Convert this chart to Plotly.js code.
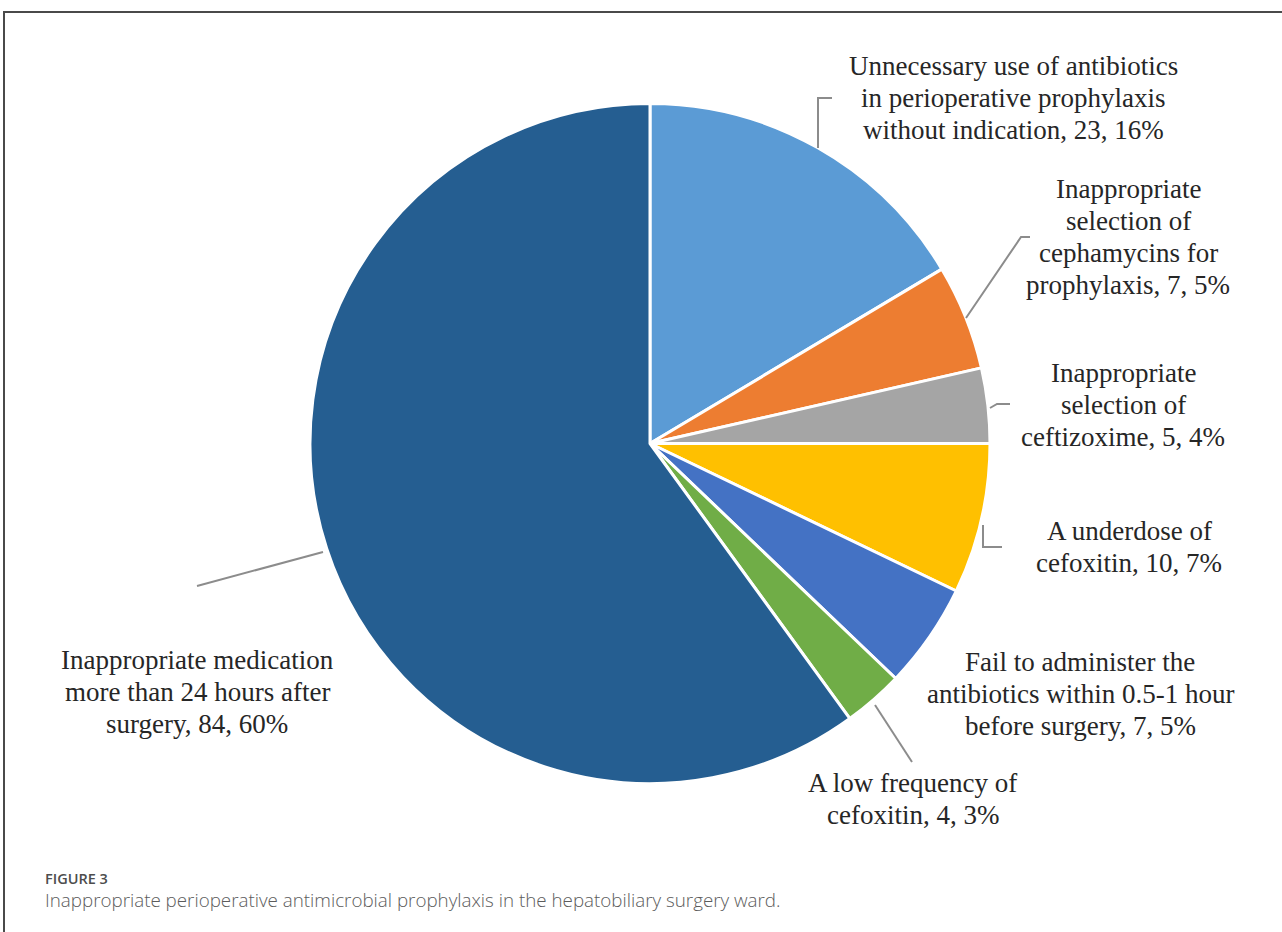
<!DOCTYPE html>
<html>
<head>
<meta charset="utf-8">
<script src="https://cdn.plot.ly/plotly-3.0.1.min.js"></script>
<style>
  html, body { margin: 0; padding: 0; background: #fff; }
  #chart { width: 1282px; height: 932px; }
</style>
</head>
<body>
<div id="chart"></div>
<script>
// ---- Data ----
const categories = [
  "Unnecessary use of antibiotics<br>in perioperative prophylaxis<br>without indication",
  "Inappropriate<br>selection of<br>cephamycins for<br>prophylaxis",
  "Inappropriate<br>selection of<br>ceftizoxime",
  "A underdose of<br>cefoxitin",
  "Fail to administer the<br>antibiotics within 0.5-1 hour<br>before surgery",
  "A low frequency of<br>cefoxitin",
  "Inappropriate medication<br>more than 24 hours after<br>surgery"
];
const values = [23, 7, 5, 10, 7, 4, 84];
const colors = ["#5B9BD5", "#ED7D31", "#A5A5A5", "#FFC000", "#4472C4", "#70AD47", "#255E91"];
const figureLabel = "FIGURE 3";
const caption = "Inappropriate perioperative antimicrobial prophylaxis in the hepatobiliary surgery ward.";

// ---- Layout helpers (pixel -> paper) ----
const W = 1282, H = 932;
const px = x => x / W;
const py = y => 1 - y / H;

const total = values.reduce((a, b) => a + b, 0);
const labelText = categories.map((c, i) =>
  c + ", " + values[i] + ", " + Math.round(values[i] / total * 100) + "%");

// label centres (pixels)
const labelPos = [
  [1013, 98], [1128, 237], [1123, 405], [1129, 547],
  [1080, 694], [913, 799], [197, 692]
];
const lineGap = 32;
// leader lines (pixel polylines)
const leaders = [
  [[818, 148], [818, 98], [832, 98]],
  [[966, 318], [1021, 237], [1030, 237]],
  [[990, 408], [997, 404], [1010, 404]],
  [[983, 525], [983, 547], [1002, 547]],
  null,
  [[875, 705], [912, 762]],
  [[323, 552], [197, 586]]
];

const annotations = [];
labelText.forEach((t, i) => {
  const lines = t.split("<br>");
  const n = lines.length;
  lines.forEach((ln, k) => {
    annotations.push({
      text: ln, xref: "paper", yref: "paper",
      x: px(labelPos[i][0]), y: py(labelPos[i][1] + (k - (n - 1) / 2) * lineGap),
      xanchor: "center", yanchor: "middle", align: "center",
      showarrow: false,
      font: { family: "Liberation Serif, Times New Roman, serif", size: 27, color: "#262626" }
    });
  });
});
annotations.push({
  text: figureLabel, xref: "paper", yref: "paper",
  x: px(43), y: py(878), xanchor: "left", yanchor: "middle", showarrow: false,
  font: { family: "Open Sans, sans-serif", size: 14.5, color: "#4d4d4d", weight: 600 }
});
annotations.push({
  text: caption, xref: "paper", yref: "paper",
  x: px(43), y: py(900), xanchor: "left", yanchor: "middle", showarrow: false,
  font: { family: "Open Sans, sans-serif", size: 18.8, color: "#5c5c5c", weight: 300 }
});

const shapes = [];
leaders.forEach(l => {
  if (!l) return;
  const d = l.map((p, k) => (k ? "L" : "M") + px(p[0]) + "," + py(p[1])).join(" ");
  shapes.push({ type: "path", xref: "paper", yref: "paper", path: d,
    line: { color: "#8c8c8c", width: 2 } });
});
// figure frame (top and left edges)
shapes.push({ type: "path", xref: "paper", yref: "paper",
  path: "M" + px(4) + "," + py(932) + " L" + px(4) + "," + py(12) + " L" + px(1282) + "," + py(12),
  line: { color: "#4a4a4a", width: 2 } });

const cx = 650, cy = 443.5, r = 340;
const trace = {
  type: "pie",
  labels: categories.map(c => c.replace(/<br>/g, " ")),
  values: values,
  sort: false,
  direction: "clockwise",
  rotation: 0,
  textinfo: "none",
  hoverinfo: "label+value+percent",
  marker: { colors: colors, line: { color: "#ffffff", width: 3 } },
  domain: { x: [px(cx - r), px(cx + r)], y: [py(cy + r), py(cy - r)] },
  showlegend: false
};

const layout = {
  width: W, height: H,
  margin: { l: 0, r: 0, t: 0, b: 0 },
  paper_bgcolor: "#ffffff",
  showlegend: false,
  annotations: annotations,
  shapes: shapes
};

Plotly.newPlot("chart", [trace], layout, { displayModeBar: false, staticPlot: true });
</script>
</body>
</html>
